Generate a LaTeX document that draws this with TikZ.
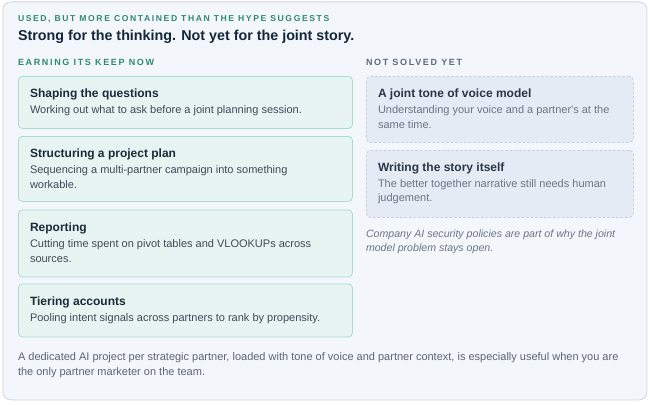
\documentclass[tikz,border=0pt]{standalone}
\usepackage{fontspec}
\setmainfont{Liberation Sans}
\definecolor{outerfill}{HTML}{F3F6FB}
\definecolor{outerdraw}{HTML}{CDD6E2}
\definecolor{teal}{HTML}{2F8A73}
\definecolor{navy}{HTML}{14263A}
\definecolor{greenfill}{HTML}{E8F4F1}
\definecolor{greendraw}{HTML}{A9DCD0}
\definecolor{bluefill}{HTML}{E5EBF4}
\definecolor{bluedraw}{HTML}{C5D0DE}
\definecolor{graylabel}{HTML}{5F6B78}
\definecolor{bodytext}{HTML}{3D4A5A}
\definecolor{softtext}{HTML}{6B7684}
\definecolor{cardtitle}{HTML}{1C2B3A}
\definecolor{softtitle}{HTML}{2A3647}
\definecolor{foottext}{HTML}{5B6573}
\begin{document}
\begin{tikzpicture}[x=1pt,y=-1pt,
  txt/.style={anchor=base west,inner sep=0pt,outer sep=0pt},
  eyebrow/.style={txt,text=teal,font=\fontsize{8.6}{10}\selectfont\bfseries\addfontfeature{LetterSpace=18.5}},
  section/.style={txt,font=\fontsize{9}{10}\selectfont\bfseries\addfontfeature{LetterSpace=18.5}},
  headline/.style={txt,text=navy,font=\fontsize{14.3}{17}\selectfont\bfseries},
  gcard/.style={anchor=north west,draw=greendraw,fill=greenfill,rounded corners=4pt,line width=0.8pt,inner sep=0pt},
  bcard/.style={anchor=north west,draw=bluedraw,fill=bluefill,rounded corners=4pt,line width=0.8pt,dash pattern=on 2.5pt off 2pt,inner sep=0pt},
  ctitle/.style={txt,text=cardtitle,font=\fontsize{12}{14}\selectfont\bfseries},
  stitle/.style={txt,text=softtitle,font=\fontsize{12}{14}\selectfont\bfseries},
  cbody/.style={txt,text=bodytext,font=\fontsize{11}{13}\selectfont},
  sbody/.style={txt,text=softtext,font=\fontsize{11}{13}\selectfont},
  note/.style={txt,text=softtext,font=\fontsize{10.6}{12}\selectfont\itshape},
  foot/.style={txt,text=foottext,font=\fontsize{11}{13}\selectfont},
]
\useasboundingbox[fill=white] (0,0) rectangle (650,404);
\node[anchor=north west,draw=outerdraw,fill=outerfill,rounded corners=8pt,line width=0.8pt,minimum width=644pt,minimum height=398pt,inner sep=0pt] (outer) at (2.5,1.5) {};

\node[eyebrow] (eb) at (18,22) {USED, BUT MORE CONTAINED THAN THE HYPE SUGGESTS};
\node[headline] (hl) at (18,41) {Strong for the thinking. Not yet for the joint story.};

\node[section,text=teal] (left) at (18,66) {EARNING ITS KEEP NOW};
\node[section,text=graylabel] (right) at (366,66) {NOT SOLVED YET};

% left cards
\node[gcard,minimum width=334pt,minimum height=52pt] (c1) at (18,76) {};
\node[ctitle] (c1t) at (30,97) {Shaping the questions};
\node[cbody] (c1a) at (30,113) {Working out what to ask before a joint planning session.};

\node[gcard,minimum width=334pt,minimum height=65pt] (c2) at (18,136) {};
\node[ctitle] (c2t) at (30,157) {Structuring a project plan};
\node[cbody] (c2a) at (30,173) {Sequencing a multi-partner campaign into something};
\node[cbody] (c2b) at (30,188) {workable.};

\node[gcard,minimum width=334pt,minimum height=67pt] (c3) at (18,209.5) {};
\node[ctitle] (c3t) at (30,231) {Reporting};
\node[cbody] (c3a) at (30,247) {Cutting time spent on pivot tables and VLOOKUPs across};
\node[cbody] (c3b) at (30,262) {sources.};

\node[gcard,minimum width=334pt,minimum height=53pt] (c4) at (18,283.5) {};
\node[ctitle] (c4t) at (30,305) {Tiering accounts};
\node[cbody] (c4a) at (30,321) {Pooling intent signals across partners to rank by propensity.};

% right cards
\node[bcard,minimum width=267pt,minimum height=66pt] (r1) at (366,76) {};
\node[stitle] (r1t) at (378,97) {A joint tone of voice model};
\node[sbody] (r1a) at (378,113) {Understanding your voice and a partner\textquotesingle s at the};
\node[sbody] (r1b) at (378,128) {same time.};

\node[bcard,minimum width=267pt,minimum height=67pt] (r2) at (366,150) {};
\node[stitle] (r2t) at (378,171) {Writing the story itself};
\node[sbody] (r2a) at (378,187) {The better together narrative still needs human};
\node[sbody] (r2b) at (378,201) {judgement.};

\node[note] (n1) at (366,237) {Company AI security policies are part of why the joint};
\node[note] (n2) at (366,251) {model problem stays open.};

% footer
\node[foot] (f1) at (18,360) {A dedicated AI project per strategic partner, loaded with tone of voice and partner context, is especially useful when you are};
\node[foot] (f2) at (18,375) {the only partner marketer on the team.};
\end{tikzpicture}
\end{document}
